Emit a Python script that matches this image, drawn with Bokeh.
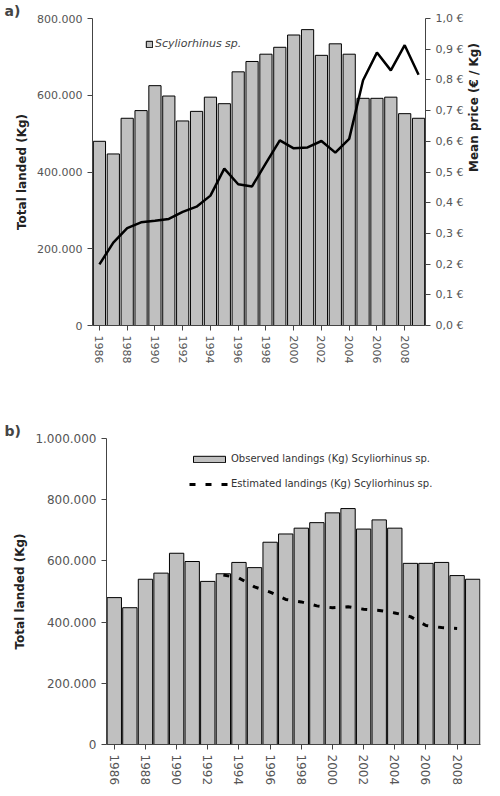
import math

from bokeh.plotting import figure
from bokeh.models import (LinearAxis, Range1d, FixedTicker, CustomJSTickFormatter,
                          Legend, LegendItem)
from bokeh.embed import file_html
from bokeh.resources import INLINE

years = list(range(1986, 2010))
landed = [480000, 447000, 540000, 560000, 625000, 598000, 533000, 558000,
          595000, 578000, 661000, 688000, 707000, 725000, 757000, 771000,
          704000, 734000, 707000, 592000, 592000, 595000, 552000, 540000]
price = [0.199, 0.27, 0.317, 0.336, 0.341, 0.347, 0.37, 0.387, 0.423, 0.511,
         0.46, 0.453, 0.529, 0.603, 0.577, 0.58, 0.601, 0.563, 0.608, 0.799,
         0.889, 0.831, 0.913, 0.817]
est_years = list(range(1993, 2009))
estimated = [554000, 544000, 515000, 498000, 474000, 466000, 453000, 447000,
             450000, 442000, 438000, 430000, 418000, 389000, 382000, 379000]
year_ticks = list(range(1986, 2010, 2))

FONT = "DejaVu Sans"
thousands = CustomJSTickFormatter(code="""
    return Math.round(tick).toString().replace(/\\B(?=(\\d{3})+(?!\\d))/g, '.');
""")
euro = CustomJSTickFormatter(code="return tick.toFixed(1).replace('.', ',') + ' \u20ac';")


def style_axis(ax):
    ax.axis_line_color = "#444444"
    ax.major_tick_line_color = "#444444"
    ax.minor_tick_line_color = None
    ax.major_tick_out = 5
    ax.major_tick_in = 0
    ax.major_label_text_font = FONT
    ax.major_label_text_font_size = "11px"
    ax.major_label_text_color = "#555555"
    ax.axis_label_text_font = FONT
    ax.axis_label_text_font_size = "12px"
    ax.axis_label_text_font_style = "bold"
    ax.axis_label_text_color = "#222222"


def base(height, y_end, left, right, bottom, tag):
    p = figure(width=492, height=height, output_backend="svg", toolbar_location=None,
               x_range=Range1d(1985.5, 2009.5), y_range=Range1d(0, y_end),
               min_border_left=left, min_border_right=right,
               min_border_top=0, min_border_bottom=bottom, title=tag)
    p.title.align = "left"
    p.title.offset = -left + 4
    p.title.standoff = 0
    p.title.text_font = FONT
    p.title.text_font_size = "14px"
    p.title.text_font_style = "bold"
    p.outline_line_color = None
    p.grid.visible = False
    p.xaxis.ticker = FixedTicker(ticks=year_ticks)
    p.xaxis.major_label_orientation = -math.pi / 2
    p.yaxis.formatter = thousands
    p.yaxis.axis_label = "Total landed (Kg)"
    style_axis(p.xaxis[0])
    style_axis(p.yaxis[0])
    return p


# a)
pa = base(420, 800000, 92, 67, 95, "a)")
pa.yaxis.ticker = FixedTicker(ticks=[0, 200000, 400000, 600000, 800000])
pa.extra_y_ranges = {"price": Range1d(0, 1)}
ra = LinearAxis(y_range_name="price", axis_label="Mean price (\u20ac / Kg)",
                ticker=FixedTicker(ticks=[i / 10 for i in range(11)]), formatter=euro)
style_axis(ra)
ra.axis_label_orientation = math.pi / 2
ra.axis_label_standoff = 8
pa.add_layout(ra, "right")
bars_a = pa.vbar(x=years, top=landed, width=0.88, fill_color="#c0c0c0", line_color="black")
pa.line(x=years, y=price, y_range_name="price", line_color="black", line_width=2.5)
leg_a = Legend(items=[LegendItem(label="Scyliorhinus sp.", renderers=[bars_a])],
               location=(53, 275), border_line_color=None, background_fill_alpha=0,
               label_text_font=FONT, label_text_font_style="italic",
               label_text_font_size="11px", glyph_width=8, glyph_height=8,
               padding=0, label_standoff=2)
pa.add_layout(leg_a)

# b)
pb = base(368, 1000000, 106, 12, 34, "b)")
pb.yaxis.ticker = FixedTicker(ticks=[0, 200000, 400000, 600000, 800000, 1000000])
pb.xaxis.major_label_text_font_size = "12px"
pb.yaxis.major_label_text_font_size = "12px"
bars_b = pb.vbar(x=years, top=landed, width=0.92, fill_color="#c0c0c0", line_color="black")
est_b = pb.line(x=est_years, y=estimated, line_color="black", line_width=3, line_dash="6 10")
leg_b = Legend(items=[LegendItem(label="Observed landings (Kg) Scyliorhinus sp.", renderers=[bars_b]),
                      LegendItem(label="Estimated landings (Kg) Scyliorhinus sp.", renderers=[est_b])],
               location=(83, 255), border_line_color=None, background_fill_alpha=0,
               label_text_font=FONT, label_text_font_size="10px", label_text_color="#333333",
               glyph_width=40, glyph_height=8, padding=0, spacing=14, label_standoff=2)
pb.add_layout(leg_b)

open("out.html", "w").write(file_html([pa, pb], INLINE))
